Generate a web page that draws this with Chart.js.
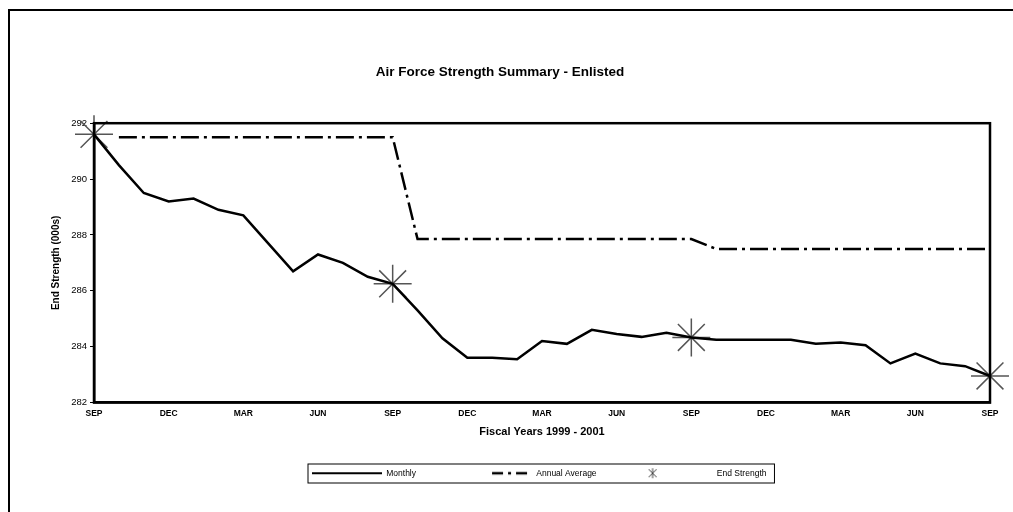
<!DOCTYPE html>
<html>
<head>
<meta charset="utf-8">
<script src="https://cdn.jsdelivr.net/npm/chart.js@4"></script>
<style>
  html, body { margin: 0; padding: 0; background: #fff; }
  #wrap { position: relative; width: 1013px; height: 512px; }
  #frame { position: absolute; left: 8px; top: 9px; right: 0; bottom: 0;
           border-left: 2px solid #000; border-top: 2px solid #000; }
  canvas { position: absolute; left: 0; top: 0; }
</style>
</head>
<body>
<div id="wrap">
  <div id="frame"></div>
  <canvas id="myChart" width="1013" height="512"></canvas>
</div>
<script>
const monthNames = ["SEP", "OCT", "NOV", "DEC", "JAN", "FEB", "MAR", "APR", "MAY", "JUN", "JUL", "AUG"];
// Sep 1998 .. Sep 2001
const months = [];
for (let i = 0; i < 37; i++) months.push(monthNames[i % 12]);

const monthly = [
  291.6, 290.5, 289.5, 289.2, 289.3, 288.9, 288.7, 287.7, 286.7, 287.3, 287.0, 286.5,
  286.25, 285.3, 284.3, 283.6, 283.6, 283.55, 284.2, 284.1, 284.6, 284.45, 284.35, 284.5,
  284.33, 284.25, 284.25, 284.25, 284.25, 284.1, 284.15, 284.05, 283.4, 283.75, 283.4, 283.3,
  282.95
];

const annualAverage = [
  null, 291.5, 291.5, 291.5, 291.5, 291.5, 291.5, 291.5, 291.5, 291.5, 291.5, 291.5,
  291.5, 287.85, 287.85, 287.85, 287.85, 287.85, 287.85, 287.85, 287.85, 287.85, 287.85, 287.85,
  287.85, 287.5, 287.5, 287.5, 287.5, 287.5, 287.5, 287.5, 287.5, 287.5, 287.5, 287.5,
  287.5
];

const endStrength = [
  291.6, null, null, null, null, null, null, null, null, null, null, null,
  286.25, null, null, null, null, null, null, null, null, null, null, null,
  284.33, null, null, null, null, null, null, null, null, null, null, null,
  282.95
];

const yTicks = [282, 284, 286, 288, 290, 292];

const ctx = document.getElementById("myChart");

// little legend glyphs, 70px wide like the legend box
function glyph(draw) {
  const c = document.createElement("canvas");
  c.width = 70;
  c.height = 14;
  const g = c.getContext("2d");
  g.strokeStyle = "#000";
  draw(g);
  return c;
}
const legendGlyphs = [
  glyph(g => { g.lineWidth = 2; g.beginPath(); g.moveTo(0, 7); g.lineTo(70, 7); g.stroke(); }),
  glyph(g => { g.lineWidth = 2.5; g.setLineDash([11, 5, 3, 5]); g.beginPath(); g.moveTo(30, 7); g.lineTo(70, 7); g.stroke(); }),
  glyph(g => {
    g.strokeStyle = "#444"; g.lineWidth = 1;
    g.beginPath();
    g.moveTo(10, 2); g.lineTo(10, 12);
    g.moveTo(6, 3); g.lineTo(14, 11);
    g.moveTo(14, 3); g.lineTo(6, 11);
    g.stroke();
  }),
];

// plot frame, legend placement and the box round the legend
const framePlugin = {
  id: "frames",
  beforeDraw(chart) {
    const lg = chart.legend;
    const hb = lg.legendHitBoxes;
    if (!hb || !hb.length) return;
    const dx = 312 - hb[0].left;
    const dy = 469 - hb[0].top;
    lg.left += dx; lg.right += dx;
    lg.top += dy; lg.bottom += dy;
    hb.forEach(h => { h.left += dx; h.top += dy; });
  },
  afterDraw(chart) {
    const c = chart.ctx;
    const a = chart.chartArea;
    c.save();
    c.strokeStyle = "#000";
    c.lineWidth = 2.5;
    c.strokeRect(a.left, a.top, a.right - a.left, a.bottom - a.top);
    const hb = chart.legend.legendHitBoxes;
    if (hb && hb.length) {
      const l = Math.min(...hb.map(h => h.left)) - 4;
      const r = Math.max(...hb.map(h => h.left + h.width)) + 8;
      const t = hb[0].top - 5;
      c.lineWidth = 1;
      c.strokeRect(l, t, r - l, 19);
    }
    c.restore();
  }
};

new Chart(ctx, {
  type: "line",
  data: {
    labels: months,
    datasets: [
      {
        label: "Monthly",
        data: monthly,
        borderColor: "#000",
        borderWidth: 2.5,
        pointRadius: 0,
        tension: 0,
      },
      {
        label: "Annual Average",
        data: annualAverage,
        borderColor: "#000",
        borderWidth: 2.5,
        borderDash: [18, 5, 3, 5],
        pointRadius: 0,
        tension: 0,
      },
      {
        label: "End Strength",
        data: endStrength,
        showLine: false,
        borderColor: "#555",
        backgroundColor: "#555",
        borderWidth: 1.5,
        pointStyle: "star",
        pointRadius: 19,
        clip: false,
      },
    ],
  },
  options: {
    responsive: false,
    animation: false,
    layout: { padding: { left: 10, right: 23, top: 0, bottom: 9 } },
    plugins: {
      title: {
        display: true,
        text: "Air Force Strength Summary - Enlisted",
        color: "#000",
        font: { family: "Liberation Sans", size: 13.5, weight: "bold" },
        padding: { top: 64, bottom: 43 },
      },
      legend: {
        position: "bottom",
        labels: {
          color: "#000",
          font: { family: "Liberation Sans", size: 8.5 },
          usePointStyle: true,
          pointStyleWidth: 70,
          padding: 46,
          generateLabels(chart) {
            const items = Chart.defaults.plugins.legend.labels.generateLabels(chart);
            items.forEach((it, i) => { it.pointStyle = legendGlyphs[i]; it.lineDash = []; });
            return items;
          },
        },
      },
      tooltip: { enabled: false },
    },
    scales: {
      x: {
        offset: false,
        afterFit(scale) { scale.height = 36; },
        grid: { display: false, drawOnChartArea: false },
        border: { color: "#000", width: 2.5 },
        ticks: {
          autoSkip: false,
          maxRotation: 0,
          color: "#000",
          padding: -2,
          font: { family: "Liberation Sans", size: 8.5, weight: "bold" },
          callback(value, index) { return index % 3 === 0 ? months[index] : ""; },
        },
        title: {
          display: true,
          text: "Fiscal Years 1999 - 2001",
          color: "#000",
          font: { family: "Liberation Sans", size: 11, weight: "bold" },
          padding: { top: 0, bottom: 0 },
        },
      },
      y: {
        min: 282,
        max: 292,
        afterFit(scale) { scale.width = 84; },
        afterBuildTicks(scale) { scale.ticks = yTicks.map(v => ({ value: v })); },
        grid: { drawOnChartArea: false, color: "#000", tickLength: 4 },
        border: { color: "#000", width: 2.5 },
        ticks: {
          color: "#000",
          padding: 3,
          font: { family: "Liberation Sans", size: 9.5 },
        },
        title: {
          display: true,
          text: "End Strength (000s)",
          color: "#000",
          font: { family: "Liberation Sans", size: 10, weight: "bold" },
          padding: { top: 40, bottom: 0 },
        },
      },
    },
  },
  plugins: [framePlugin],
});
</script>
</body>
</html>
